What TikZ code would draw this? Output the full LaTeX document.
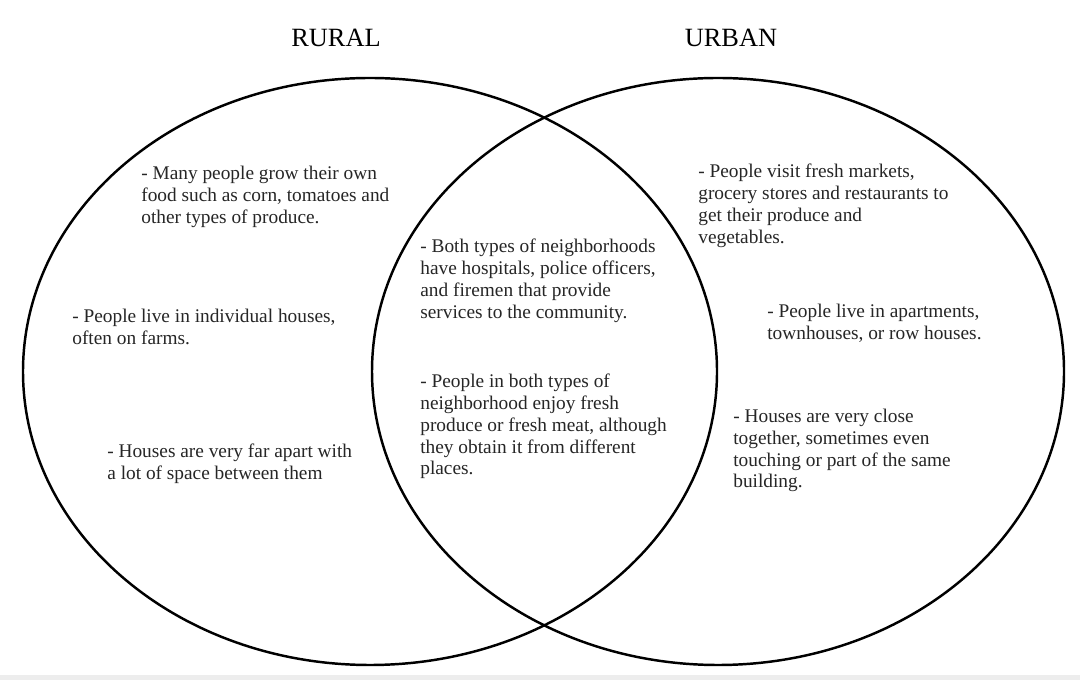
\documentclass[tikz,border=0pt]{standalone}
\usepackage{fontspec}
\setmainfont{Liberation Serif}
\usepackage{tikz}
\usetikzlibrary{positioning}

\begin{document}
\begin{tikzpicture}[
    txt/.style={anchor=north west, align=left, inner sep=0pt, text=black!85,
        font=\fontsize{11}{12.35}\selectfont},
    titre/.style={font=\fontsize{15}{18}\selectfont}
]
    % Cadre
    \useasboundingbox (0,0) rectangle (21.6,13.6);
    \fill[white] (0,0) rectangle (21.6,13.6);
    \fill[black!7] (0,0) rectangle (21.6,0.1);

    % Ellipses
    \draw[line width=1.4pt] (7.40,6.17) ellipse [x radius=6.94, y radius=5.87];
    \draw[line width=1.4pt] (14.36,6.17) ellipse [x radius=6.92, y radius=5.87];

    % Titres
    \node[titre] (rural) at (6.72,12.84) {RURAL};
    \node[titre] (urban) at (14.62,12.84) {URBAN};

    % Rural
    \node[txt] (r1) at (2.82,10.28) {- Many people grow their own\\food such as corn, tomatoes and\\other types of produce.};
    \node[txt] (r2) at (1.44,7.42) {- People live in individual houses,\\often on farms.};
    \node[txt] (r3) at (2.14,4.72) {- Houses are very far apart with\\a lot of space between them};

    % Commun
    \node[txt] (c1) at (8.40,8.82) {- Both types of neighborhoods\\have hospitals, police officers,\\and firemen that provide\\services to the community.};
    \node[txt] (c2) at (8.40,6.12) {- People in both types of\\neighborhood enjoy fresh\\produce or fresh meat, although\\they obtain it from different\\places.};

    % Urban
    \node[txt] (u1) at (13.96,10.32) {- People visit fresh markets,\\grocery stores and restaurants to\\get their produce and\\vegetables.};
    \node[txt] (u2) at (15.34,7.52) {- People live in apartments,\\townhouses, or row houses.};
    \node[txt] (u3) at (14.66,5.42) {- Houses are very close\\together, sometimes even\\touching or part of the same\\building.};
\end{tikzpicture}
\end{document}
